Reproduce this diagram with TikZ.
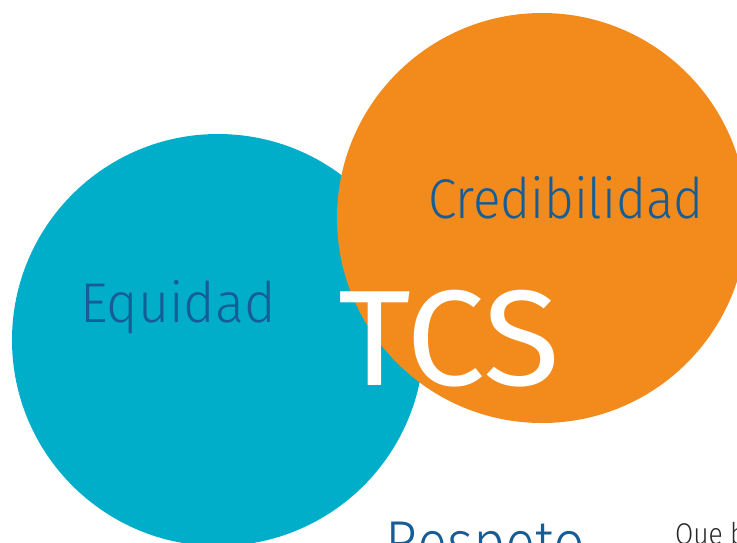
\documentclass[tikz,border=0pt]{standalone}
\usepackage{fontspec}
\usepackage{graphicx}
\setmainfont{Fira Sans Light}
\newfontfamily\firareg{Fira Sans}
\definecolor{cblue}{RGB}{0,174,202}
\definecolor{corange}{RGB}{242,139,27}
\definecolor{tblue}{RGB}{22,92,150}
\definecolor{tgray}{RGB}{40,40,40}
\tikzset{
  lbl/.style={anchor=base west, inner sep=0pt, text=tblue, font=\fontsize{56}{56}\selectfont},
}
\begin{document}
\begin{tikzpicture}[x=1pt,y=-1pt]
\useasboundingbox (0,0) rectangle (737,542);
\clip (0,0) rectangle (737,542);
\fill[cblue] (218,340) circle (206);
\fill[corange] (542,218) circle (205);
\node[lbl] (equidad) at (80,322) {\scalebox{0.96}[1]{Equidad}};
\node[lbl] (cred) at (428,218) {\scalebox{0.915}[1]{Credibilidad}};
\node[lbl, text=white, font=\firareg\fontsize{136}{136}\selectfont] (tcs) at (338,385) {\scalebox{1.035}[1]{TCS}};
\node[lbl, font=\fontsize{62}{62}\selectfont] (respeto) at (385,564) {\scalebox{0.9}[1]{Respeto}};
\node[lbl, text=tgray, font=\fontsize{30}{30}\selectfont] (que) at (675,544) {\scalebox{0.88}[1]{Que b}};
\end{tikzpicture}
\end{document}
